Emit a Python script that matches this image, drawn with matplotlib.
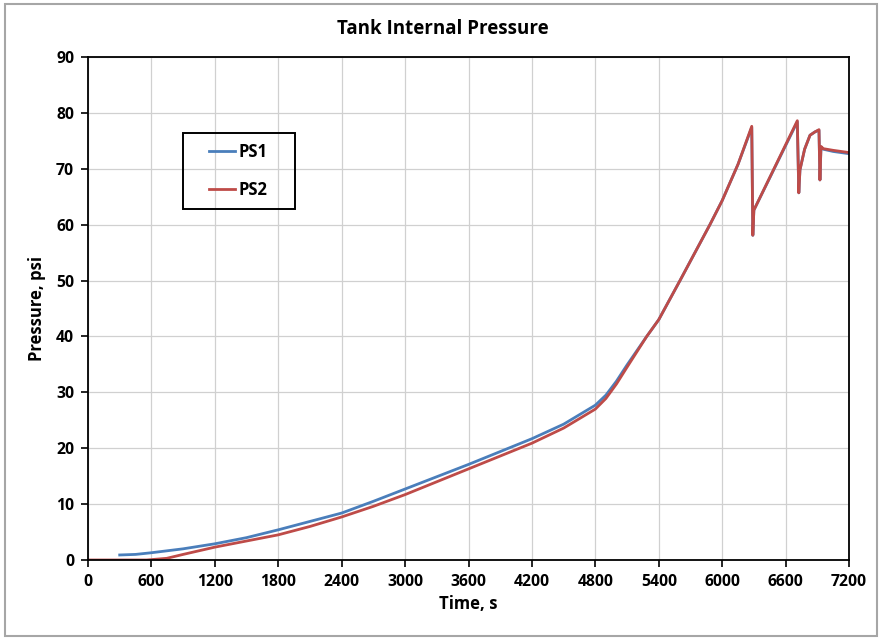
import matplotlib
matplotlib.use("Agg")
import matplotlib.pyplot as plt
from matplotlib.patches import Rectangle

plt.rcParams["font.family"] = ["Open Sans", "DejaVu Sans"]

# Pressure sensor traces (time in s, pressure in psi)
ps1_t = [300, 450, 600, 900, 1200, 1500, 1800, 2100, 2400, 2700, 3000, 3300,
         3600, 3900, 4200, 4500, 4800, 4900, 5000, 5100, 5286, 5400, 5601,
         5700, 5884, 6000, 6150, 6280, 6290, 6300, 6711, 6725, 6736, 6780,
         6831, 6878, 6916, 6925, 6935, 6957, 7050, 7200]
ps1_p = [0.9, 1.0, 1.3, 2.0, 2.9, 4.0, 5.4, 6.9, 8.4, 10.5, 12.7, 14.9,
         17.1, 19.4, 21.7, 24.3, 27.7, 29.5, 32.0, 34.9, 40.0, 43.0, 50.0,
         53.5, 60.0, 64.3, 70.8, 77.4, 58.1, 62.6, 78.4, 65.7, 69.8, 73.5,
         76.0, 76.6, 76.9, 68.0, 73.9, 73.5, 73.1, 72.7]

ps2_t = [0, 300, 555, 745, 900, 1200, 1500, 1800, 2100, 2400, 2700, 3000,
         3300, 3600, 3900, 4200, 4500, 4800, 4900, 5000, 5100, 5286, 5400,
         5601, 5700, 5884, 6000, 6150, 6280, 6290, 6300, 6711, 6725, 6736,
         6780, 6831, 6878, 6916, 6925, 6935, 6957, 7050, 7200]
ps2_p = [0.0, 0.0, 0.0, 0.3, 1.0, 2.3, 3.4, 4.5, 6.0, 7.7, 9.6, 11.7,
         14.0, 16.3, 18.6, 20.9, 23.6, 27.0, 28.9, 31.5, 34.5, 40.0, 43.0,
         50.0, 53.5, 60.0, 64.3, 70.8, 77.6, 58.1, 62.6, 78.6, 65.7, 69.8,
         73.5, 76.0, 76.6, 77.0, 68.0, 74.0, 73.6, 73.3, 72.9]

x_ticks = list(range(0, 7201, 600))
y_ticks = list(range(0, 91, 10))

W, H = 883, 640
fig = plt.figure(figsize=(W / 100, H / 100), dpi=100)
ax = fig.add_axes([88 / W, 80 / H, 761 / W, 503 / H])


def px_rect(x0, y0, x1, y1, **kw):
    """Rectangle given in pixel coords measured from the top-left corner."""
    return Rectangle((x0 / W, 1 - y1 / H), (x1 - x0) / W, (y1 - y0) / H,
                     transform=fig.transFigure, fill=False, **kw)


# thin grey frame around the whole chart
fig.patches.append(px_rect(5, 4, 877, 636, edgecolor="#a6a6a6", lw=1.5))

ax.plot(ps1_t, ps1_p, color="#4a7ebb", lw=2.0, label="PS1")
ax.plot(ps2_t, ps2_p, color="#be4b48", lw=2.0, label="PS2")

ax.set_xlim(0, 7200)
ax.set_ylim(0, 90)
ax.set_xticks(x_ticks)
ax.set_yticks(y_ticks)
ax.grid(True, color="#d0d0d0", lw=0.9)
ax.set_axisbelow(True)
for s in ax.spines.values():
    s.set_color("black")
    s.set_linewidth(1.3)
ax.tick_params(direction="out", length=5, width=1.2, labelsize=11.3, pad=5)
for lbl in ax.get_xticklabels() + ax.get_yticklabels():
    lbl.set_fontweight("bold")

ax.set_xlabel("Time, s", fontsize=12, fontweight="bold", labelpad=4)
ax.set_ylabel("Pressure, psi", fontsize=12, fontweight="bold", labelpad=7)
fig.text(0.502, 0.955, "Tank Internal Pressure", ha="center", va="center",
         fontsize=13.5, fontweight="bold")

# legend entries without their own frame; the box is drawn separately
fig.patches.append(px_rect(183, 133, 295, 209, edgecolor="black", lw=1.4))
ax.legend(loc="upper left", bbox_to_anchor=(209 / W, 1 - 143 / H),
          bbox_transform=fig.transFigure, frameon=False, handlelength=1.55,
          handletextpad=0.2, labelspacing=1.2, borderpad=0,
          borderaxespad=0, prop={"weight": "bold", "size": 12})

fig.savefig("out.png", dpi=100)
